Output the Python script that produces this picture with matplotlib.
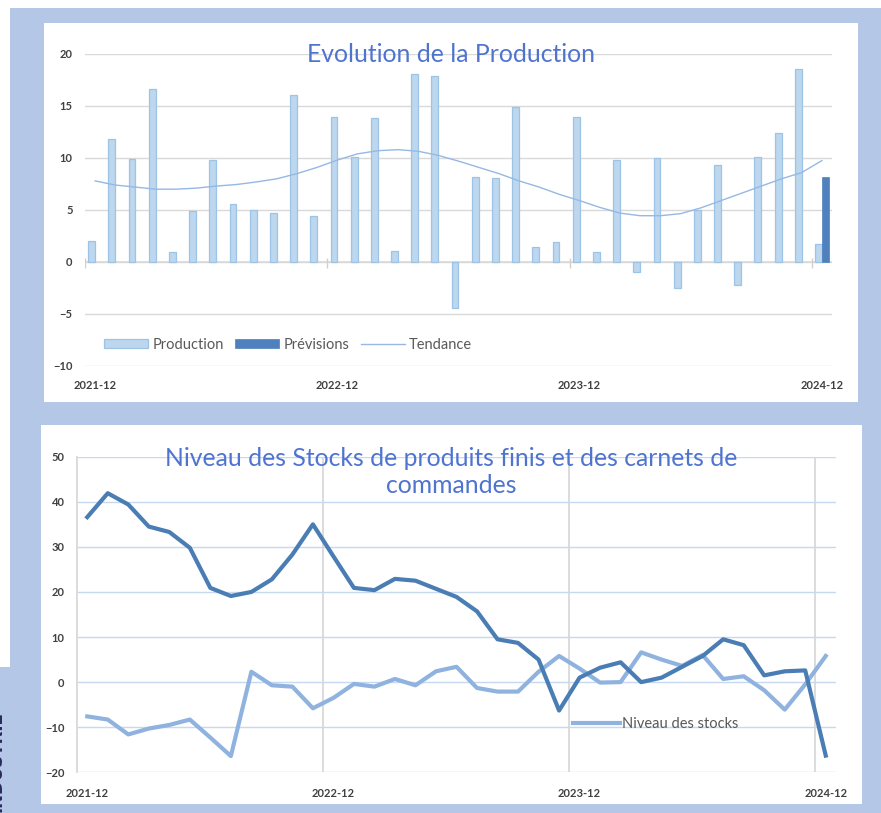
import numpy as np
import matplotlib
matplotlib.use("Agg")
import matplotlib.pyplot as plt
from matplotlib.patches import Rectangle

plt.rcParams['font.family'] = ['Lato', 'DejaVu Sans']

# ---------------- data ----------------
tick_labels = ["2021-12", "2022-12", "2023-12", "2024-12"]
tick_index = [0, 12, 24, 36]

production = [2.0, 11.8, 9.9, 16.6, 1.0, 4.9, 9.8, 5.6, 5.0, 4.7, 16.1, 4.4,
              13.9, 10.1, 13.8, 1.1, 18.1, 17.9, -4.4, 8.2, 8.1, 14.9, 1.4, 1.9,
              13.9, 1.0, 9.8, -1.0, 10.0, -2.5, 5.0, 9.3, -2.2, 10.1, 12.4, 18.6, 1.7]
previsions = [np.nan] * 36 + [8.2]
tendance = [7.8, 7.4, 7.2, 7.0, 7.0, 7.1, 7.3, 7.45, 7.7, 8.0, 8.5, 9.1,
            9.8, 10.4, 10.7, 10.8, 10.65, 10.25, 9.7, 9.1, 8.5, 7.8, 7.2, 6.5,
            5.9, 5.25, 4.7, 4.45, 4.45, 4.65, 5.2, 5.9, 6.6, 7.3, 8.0, 8.6, 9.75]

stocks = [-7.6, -8.3, -11.6, -10.3, -9.5, -8.3, -12.3, -16.4, 2.3, -0.7, -1.0, -5.8,
          -3.5, -0.4, -1.0, 0.7, -0.7, 2.4, 3.4, -1.3, -2.1, -2.1, 2.3, 5.8,
          3.0, -0.1, 0.0, 6.6, 5.0, 3.6, 6.0, 0.7, 1.3, -1.8, -6.1, -0.5, 5.8]
commandes = [36.6, 41.9, 39.4, 34.5, 33.3, 29.8, 20.9, 19.1, 20.0, 22.8, 28.3, 35.0,
             27.9, 20.9, 20.4, 22.9, 22.5, 20.7, 18.9, 15.7, 9.5, 8.7, 5.0, -6.3,
             1.0, 3.2, 4.4, 0.0, 1.0, 3.4, 5.8, 9.5, 8.2, 1.5, 2.4, 2.6, -16.3]

# ---------------- layout helpers ----------------
W, H = 881, 813
fig = plt.figure(figsize=(W / 100, H / 100), dpi=100)
fig.patch.set_facecolor('white')

def frect(x0, y0, x1, y1):
    return [x0 / W, 1 - y1 / H, (x1 - x0) / W, (y1 - y0) / H]

def add_box(x0, y0, x1, y1, color):
    l, b, w, h = frect(x0, y0, x1, y1)
    fig.patches.append(Rectangle((l, b), w, h, transform=fig.transFigure,
                                 facecolor=color, edgecolor='none', zorder=-10))

FRAME = '#b4c7e7'
add_box(10, 8, W, H, FRAME)
add_box(0, 667, 10, H, FRAME)
add_box(44, 23, 858, 402, 'white')
add_box(41, 425, 862, 804, 'white')

fig.text(6 / W, 1 - 762 / H, 'INDUSTRIE', rotation=90, ha='right', va='center',
         fontsize=12, fontweight='bold', color='#2b2a5c', family=['DejaVu Sans'])

TICK_COLOR = '#404040'
TITLE_COLOR = '#4f74d0'
n = len(production)
x = np.arange(n)
bounds = [i - 0.5 for i in tick_index]

# ---------------- top chart ----------------
ax1 = fig.add_axes(frect(85, 54, 832, 366))
ax1.set_facecolor('none')
b_prod = ax1.bar(x - 0.17, production, width=0.34, color='#bdd7ee', edgecolor='#9dc3e6',
                 linewidth=0.9, label='Production', zorder=3)
b_prev = ax1.bar(x + 0.17, previsions, width=0.34, color='#4e81bd', edgecolor='#4e81bd',
                 linewidth=0.5, label='Prévisions', zorder=3)
l_tend, = ax1.plot(x, tendance, color='#95b8e4', lw=1.0, label='Tendance', zorder=4)
ax1.set_xlim(-0.5, n - 0.5)
ax1.set_ylim(-10, 20)
ax1.set_yticks(range(-10, 21, 5))
ax1.grid(axis='y', color='#d9d9d9', lw=1, zorder=0)
ax1.axhline(0, color='#d9d9d9', lw=1.2, zorder=2)
ax1.vlines(bounds, -0.55, 0.4, color='#d0d0d0', lw=1, zorder=2)
for s in ax1.spines.values():
    s.set_visible(False)
ax1.set_xticks(tick_index, tick_labels)
ax1.tick_params(axis='both', length=0, labelsize=8, labelcolor=TICK_COLOR)
ax1.tick_params(axis='x', pad=10)
ax1.tick_params(axis='y', pad=9)
for lab in ax1.get_xticklabels() + ax1.get_yticklabels():
    lab.set_fontweight('bold')
ax1.legend(handles=[b_prod, b_prev, l_tend], loc='center left',
           bbox_to_anchor=(104 / W, 1 - 345 / H),
           bbox_transform=fig.transFigure, ncol=3, frameon=False,
           handlelength=3.0, handleheight=0.55, handletextpad=0.3,
           columnspacing=0.8, borderpad=0, borderaxespad=0,
           fontsize=10.5, labelcolor='#595959')
fig.text(451 / W, 1 - 55 / H, 'Evolution de la Production', ha='center', va='center',
         fontsize=17.8, color=TITLE_COLOR)

# ---------------- bottom chart ----------------
ax2 = fig.add_axes(frect(77, 456.7, 836, 772.3))
ax2.set_facecolor('none')
l_stock, = ax2.plot(x, stocks, color='#8fb3de', lw=3, label='Niveau des stocks', zorder=3)
ax2.plot(x, commandes, color='#4a7db4', lw=3, zorder=4)
ax2.set_xlim(-0.5, n - 0.5)
ax2.set_ylim(-20, 50)
ax2.set_yticks(range(-20, 51, 10))
ax2.grid(axis='y', color='#c6d9f0', lw=1, zorder=0)
ax2.vlines(bounds[1:], -20, 50, color='#d9d9d9', lw=1.3, zorder=1)
for k, s in ax2.spines.items():
    s.set_visible(k == 'left')
ax2.spines['left'].set_color('#d9d9d9')
ax2.spines['left'].set_linewidth(1.3)
ax2.set_xticks(tick_index, tick_labels)
ax2.tick_params(axis='both', length=0, labelsize=8, labelcolor=TICK_COLOR)
ax2.tick_params(axis='x', pad=11)
ax2.tick_params(axis='y', pad=9)
for lab in ax2.get_xticklabels() + ax2.get_yticklabels():
    lab.set_fontweight('bold')
ax2.legend(handles=[l_stock], loc='center left', bbox_to_anchor=(573 / W, 1 - 724 / H),
           bbox_transform=fig.transFigure, frameon=False, handlelength=3.2,
           handletextpad=0.15, borderpad=0, borderaxespad=0,
           fontsize=10.5, labelcolor='#595959')
fig.text(451 / W, 1 - 472 / H,
         'Niveau des Stocks de produits finis et des carnets de\ncommandes',
         ha='center', va='center', fontsize=17.8, color=TITLE_COLOR, linespacing=1.2)

fig.savefig('out.png', dpi=100)
